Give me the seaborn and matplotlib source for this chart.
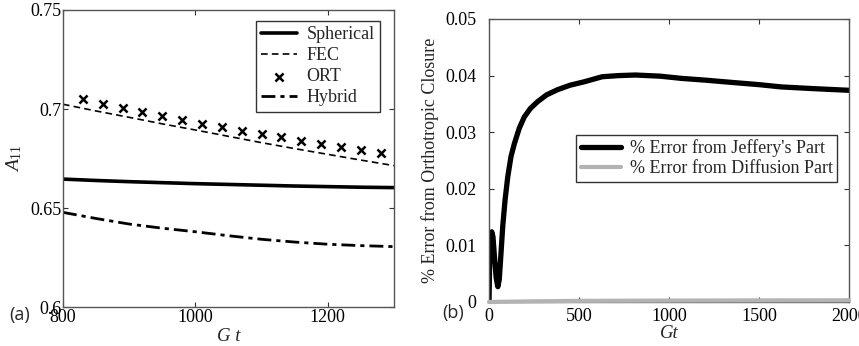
import matplotlib
matplotlib.use("Agg")
import matplotlib.pyplot as plt
import seaborn as sns

# ---- data -----------------------------------------------------------------
# (a) A11 versus Gt
gt_a = [800, 850, 900, 950, 1000, 1050, 1100, 1150, 1200, 1250, 1300]
spherical = [0.6646, 0.6639, 0.6633, 0.6628, 0.6623, 0.6619, 0.6615, 0.6611, 0.6608, 0.6605, 0.6603]
fec = [0.7024, 0.6990, 0.6958, 0.6925, 0.6894, 0.6862, 0.6830, 0.6800, 0.6771, 0.6742, 0.6714]
hybrid = [0.6478, 0.6447, 0.6419, 0.6398, 0.6380, 0.6360, 0.6342, 0.6328, 0.6317, 0.6310, 0.6305]
gt_ort = [830, 860, 890, 920, 950, 980, 1010, 1040, 1070, 1100, 1130, 1160, 1190, 1220, 1250, 1280]
ort = [0.7050, 0.7027, 0.7005, 0.6983, 0.6963, 0.6944, 0.6926, 0.6908, 0.6889, 0.6872,
       0.6857, 0.6840, 0.6823, 0.6810, 0.6793, 0.6780]

# (b) % error from orthotropic closure
gt_b = [0, 3, 8, 15, 22, 30, 40, 49, 57, 64, 76, 89, 104, 122, 141, 168, 196, 230, 270,
        320, 380, 450, 528, 629, 720, 813, 950, 1071, 1200, 1347, 1500, 1623, 1800, 2000]
jeffery = [0.0, 0.0065, 0.0110, 0.0124, 0.0115, 0.0080, 0.0042, 0.0027, 0.0040, 0.0074,
           0.0133, 0.0180, 0.0221, 0.0257, 0.0280, 0.0307, 0.0327, 0.0342, 0.0354,
           0.0366, 0.0375, 0.0383, 0.0389, 0.0398, 0.0400, 0.0401, 0.0399, 0.0395,
           0.0392, 0.0388, 0.0384, 0.0380, 0.0377, 0.0374]
gt_diff = [0, 200, 500, 1000, 1500, 2000]
diffusion = [0.0, 0.0001, 0.0002, 0.00025, 0.00028, 0.0003]

a_xticks = [800, 1000, 1200]
a_yticks = [0.6, 0.65, 0.7, 0.75]
a_ylabels = ["0.6", "0.65", "0.7", "0.75"]
b_xticks = [0, 500, 1000, 1500, 2000]
b_yticks = [0, 0.01, 0.02, 0.03, 0.04, 0.05]
b_ylabels = ["0", "0.01", "0.02", "0.03", "0.04", "0.05"]

sns.set_theme(style="ticks")
plt.rcParams["font.family"] = ["Liberation Serif", "DejaVu Serif"]
plt.rcParams["mathtext.fontset"] = "custom"
plt.rcParams["mathtext.rm"] = "Liberation Serif"
plt.rcParams["mathtext.it"] = "Liberation Serif:italic"

FS = 13
SPINE = "#555555"

fig = plt.figure(figsize=(8.59, 3.46), dpi=100)
ax1 = fig.add_axes([0.0733, 0.1127, 0.3853, 0.8584])
ax2 = fig.add_axes([0.5693, 0.1272, 0.4191, 0.8179])


def style_axes(ax, xpad, ypad):
    for s in ax.spines.values():
        s.set_visible(True)
        s.set_color(SPINE)
        s.set_linewidth(1.0)
    ax.tick_params(direction="in", length=3.5, width=0.8, color="#333333",
                   top=True, right=True, labelsize=FS, labelcolor="black")
    ax.tick_params(axis="x", pad=xpad)
    ax.tick_params(axis="y", pad=ypad)


# (a) ---------------------------------------------------------------------
sns.lineplot(x=gt_a, y=spherical, ax=ax1, color="black", lw=2.6, label="Spherical")
sns.lineplot(x=gt_a, y=fec, ax=ax1, color="black", lw=1.2, linestyle=(0, (4, 2.5)), label="FEC")
sns.scatterplot(x=gt_ort, y=ort, ax=ax1, color="black", marker="x", s=34, linewidth=1.8,
                label="ORT", zorder=3)
sns.lineplot(x=gt_a, y=hybrid, ax=ax1, color="black", lw=2.0,
             linestyle=(0, (5, 1.8, 1.5, 1.8)), label="Hybrid")
ax1.set_xlim(800, 1300)
ax1.set_ylim(0.6, 0.75)
ax1.set_xticks(a_xticks)
ax1.set_yticks(a_yticks)
ax1.set_yticklabels(a_ylabels)
style_axes(ax1, xpad=1.5, ypad=1)
ax1.set_xlabel("G t", fontsize=FS + 0.5, fontstyle="italic")
ax1.xaxis.set_label_coords(0.5, -0.07)
ax1.set_ylabel(r"$A_{11}$", fontsize=FS + 1)
ax1.yaxis.set_label_coords(-0.118, 0.5)
leg1 = ax1.legend(loc="upper right", bbox_to_anchor=(0.958, 0.963), borderaxespad=0,
                  fontsize=FS, frameon=True, fancybox=False, framealpha=1,
                  edgecolor="#333333", handlelength=2.0, handletextpad=0.5,
                  labelspacing=0.22, borderpad=0.3, scatterpoints=1)
leg1.get_frame().set_linewidth(1.0)
fig.text(0.0105, 0.09, "(a)", fontsize=FS, family=["Open Sans", "DejaVu Sans"], va="center")

# (b) ---------------------------------------------------------------------
sns.lineplot(x=gt_b, y=jeffery, ax=ax2, color="black", lw=3.8,
             label="% Error from Jeffery's Part", sort=False)
sns.lineplot(x=gt_diff, y=diffusion, ax=ax2, color="#b3b3b3", lw=3.0,
             label="% Error from Diffusion Part", clip_on=False, zorder=3)
ax2.set_xlim(0, 2000)
ax2.set_ylim(0, 0.05)
ax2.set_xticks(b_xticks)
ax2.set_yticks(b_yticks)
ax2.set_yticklabels(b_ylabels)
style_axes(ax2, xpad=4, ypad=9)
ax2.set_xlabel("Gt", fontsize=FS + 0.5, fontstyle="italic")
ax2.xaxis.set_label_coords(0.5, -0.083)
ax2.set_ylabel("% Error from Orthotropic Closure", fontsize=FS)
ax2.yaxis.set_label_coords(-0.14, 0.5)
leg2 = ax2.legend(loc="upper right", bbox_to_anchor=(0.967, 0.59), borderaxespad=0,
                  fontsize=FS, frameon=True, fancybox=False, framealpha=1,
                  edgecolor="#333333", handlelength=2.2, handletextpad=0.5,
                  labelspacing=0.15, borderpad=0.25)
leg2.get_frame().set_linewidth(1.0)
fig.text(0.515, 0.094, "(b)", fontsize=FS, family=["Open Sans", "DejaVu Sans"], va="center")

fig.savefig("out.png", dpi=100)
